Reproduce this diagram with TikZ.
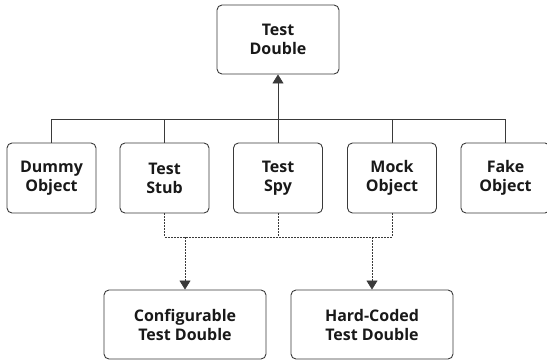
\documentclass[tikz,border=0pt]{standalone}
\usepackage{fontspec}
\setmainfont{Open Sans}
\usetikzlibrary{arrows.meta}
\definecolor{linegray}{HTML}{3A3A3A}
\tikzset{
  box/.style={draw=linegray, line width=0.9pt, rounded corners=5pt, align=center,
    font=\bfseries\fontsize{16}{19}\selectfont, text=black!90, inner sep=0pt},
  smallbox/.style={box, minimum width=89pt, minimum height=70pt},
  widebox/.style={box, minimum width=162pt, minimum height=69pt},
  link/.style={draw=linegray, line width=0.8pt},
  dlink/.style={link, dash pattern=on 2pt off 1pt},
  tip/.style={-{Triangle[width=11pt,length=9pt]}}
}
\begin{document}
\begin{tikzpicture}[x=1pt, y=-1pt]
  \useasboundingbox (0,0) rectangle (547,360);
  % root
  \node[box, minimum width=122pt, minimum height=69pt] (root) at (278,39.5) {Test\\Double};
  % variants
  \node[smallbox] (dummy) at (51.5,178) {Dummy\\Object};
  \node[smallbox] (stub)  at (164.5,178) {Test\\Stub};
  \node[smallbox] (spy)   at (278,178) {Test\\Spy};
  \node[smallbox] (mock)  at (392,178) {Mock\\Object};
  \node[smallbox] (fake)  at (505.5,178) {Fake\\Object};
  % kinds of configuration
  \node[widebox] (conf) at (185,324.5) {Configurable\\Test Double};
  \node[widebox] (hard) at (372,324.5) {Hard-Coded\\Test Double};
  % bus coordinates
  \coordinate (bus)  at (278,119.5);
  \coordinate (dbus) at (278,237);
  % generalisation tree
  \draw[link] (dummy.north) |- (bus);
  \draw[link] (stub.north) |- (bus);
  \draw[link] (mock.north) |- (bus);
  \draw[link] (fake.north) |- (bus);
  \draw[link, tip] (spy.north) -- (root.south);
  % dashed classification
  \draw[dlink] (stub.south) |- (dbus);
  \draw[dlink] (mock.south) |- (dbus);
  \draw[dlink] (spy.south) -- (dbus);
  \draw[dlink, tip] (conf.north |- dbus) -- (conf.north);
  \draw[dlink, tip] (hard.north |- dbus) -- (hard.north);
\end{tikzpicture}
\end{document}
